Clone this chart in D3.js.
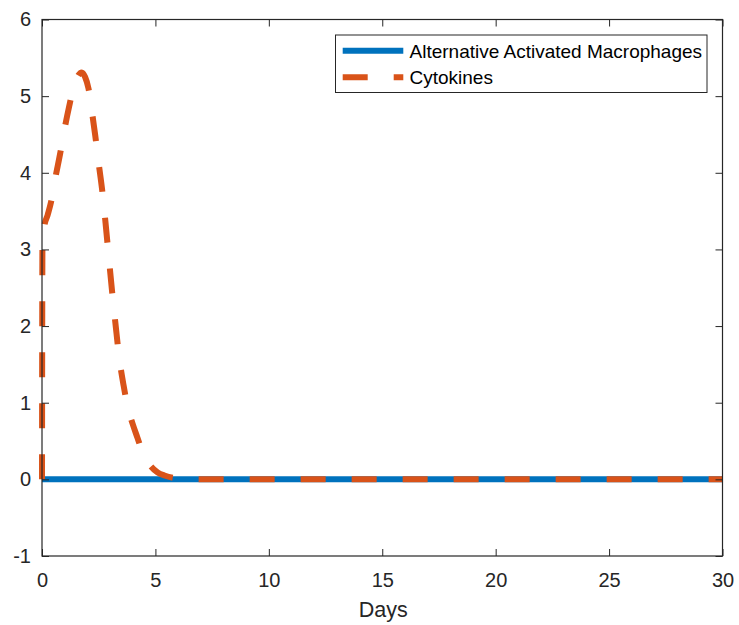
<!DOCTYPE html>
<html>
<head>
<meta charset="utf-8">
<script src="https://cdn.jsdelivr.net/npm/d3@7"></script>
<style>
  html, body { margin: 0; padding: 0; background: #fff; }
  svg { display: block; font-family: "Liberation Sans", Arial, Helvetica, sans-serif; }
</style>
</head>
<body>
<svg id="chart" width="739" height="625"></svg>
<script>
// Time points (days) and model outputs
const aamDays = [0, 5, 10, 15, 20, 25, 30];
const aamValues = [0, 0, 0, 0, 0, 0, 0];

const cytDays = [0, 0.02, 0.1, 0.25, 0.4, 0.6, 0.8, 1.0, 1.2, 1.4, 1.6, 1.75, 1.9, 2.05, 2.2, 2.35,
                 2.5, 2.65, 2.8, 2.95, 3.1, 3.25, 3.4, 3.6, 3.8, 4.0, 4.2, 4.5, 4.8, 5.1, 5.4, 5.8, 6.5, 8, 30];
const cytValues = [0, 3.05, 3.3, 3.45, 3.62, 3.95, 4.25, 4.58, 4.87, 5.12, 5.27, 5.31, 5.25, 5.1, 4.8, 4.48,
                   4.12, 3.78, 3.35, 2.88, 2.42, 2.0, 1.6, 1.22, 0.92, 0.72, 0.55, 0.3, 0.17, 0.09, 0.05, 0.02, 0.005, 0, 0];

const xTicks = [0, 5, 10, 15, 20, 25, 30];
const yTicks = [-1, 0, 1, 2, 3, 4, 5, 6];
const seriesNames = ["Alternative Activated Macrophages", "Cytokines"];
const seriesColors = ["#0072BD", "#D95319"];
const xLabel = "Days";

const plotLeft = 42, plotRight = 722.5, plotTop = 19.5, plotBottom = 556;
const axisColor = "#262626";
const tickFont = 20;
const lineW = 6;
const dash = "25,26";

const svg = d3.select("#chart");
const x = d3.scaleLinear().domain([0, 30]).range([plotLeft, plotRight]);
const y = d3.scaleLinear().domain([-1, 6]).range([plotBottom, plotTop]);

const line = d3.line().x(d => x(d[0])).y(d => y(d[1]));
const smooth = d3.line().x(d => x(d[0])).y(d => y(d[1])).curve(d3.curveMonotoneX);

const plot = svg.append("g");
plot.append("path")
  .datum(d3.zip(aamDays, aamValues))
  .attr("d", line)
  .attr("fill", "none")
  .attr("stroke", seriesColors[0])
  .attr("stroke-width", lineW);
plot.append("path")
  .datum(d3.zip(cytDays, cytValues))
  .attr("d", smooth)
  .attr("fill", "none")
  .attr("stroke", seriesColors[1])
  .attr("stroke-width", lineW)
  .attr("stroke-dasharray", dash);

// Axes (box with inward ticks on all four sides)
const tickLen = 7;
const plain = d => String(d);
function styleAxis(g) {
  g.select(".domain").remove();
  g.selectAll(".tick line").attr("stroke", axisColor).attr("stroke-width", 1);
  g.selectAll(".tick text").attr("fill", axisColor).attr("font-size", tickFont)
    .attr("font-family", "Liberation Sans, Arial, sans-serif");
}
svg.append("g").attr("transform", `translate(0,${plotBottom})`)
  .call(d3.axisBottom(x).tickValues(xTicks).tickSize(-tickLen).tickPadding(17).tickFormat(plain))
  .call(styleAxis);
svg.append("g").attr("transform", `translate(0,${plotTop})`)
  .call(d3.axisTop(x).tickValues(xTicks).tickSize(-tickLen).tickFormat(""))
  .call(styleAxis);
svg.append("g").attr("transform", `translate(${plotLeft},0)`)
  .call(d3.axisLeft(y).tickValues(yTicks).tickSize(-tickLen).tickPadding(11).tickFormat(plain))
  .call(styleAxis);
svg.append("g").attr("transform", `translate(${plotRight},0)`)
  .call(d3.axisRight(y).tickValues(yTicks).tickSize(-tickLen).tickFormat(""))
  .call(styleAxis);

svg.append("rect")
  .attr("x", plotLeft).attr("y", plotTop)
  .attr("width", plotRight - plotLeft).attr("height", plotBottom - plotTop)
  .attr("fill", "none").attr("stroke", axisColor).attr("stroke-width", 1.2);

svg.append("text")
  .attr("x", (plotLeft + plotRight) / 2 + 1).attr("y", 617)
  .attr("text-anchor", "middle")
  .attr("font-size", 21.5).attr("fill", axisColor)
  .text(xLabel);

// Legend
const lg = svg.append("g");
lg.append("rect")
  .attr("x", 335.5).attr("y", 35)
  .attr("width", 371.5).attr("height", 57.5)
  .attr("fill", "#fff").attr("stroke", axisColor).attr("stroke-width", 1);
seriesNames.forEach((name, i) => {
  const ly = 50.7 + i * 26.6;
  lg.append("line")
    .attr("x1", 342.7).attr("x2", 403.3).attr("y1", ly).attr("y2", ly)
    .attr("stroke", seriesColors[i]).attr("stroke-width", lineW)
    .attr("stroke-dasharray", i === 1 ? dash : null);
  lg.append("text")
    .attr("x", 409.5).attr("y", ly + 7)
    .attr("font-size", 19).attr("fill", "#000")
    .text(name);
});
</script>
</body>
</html>
